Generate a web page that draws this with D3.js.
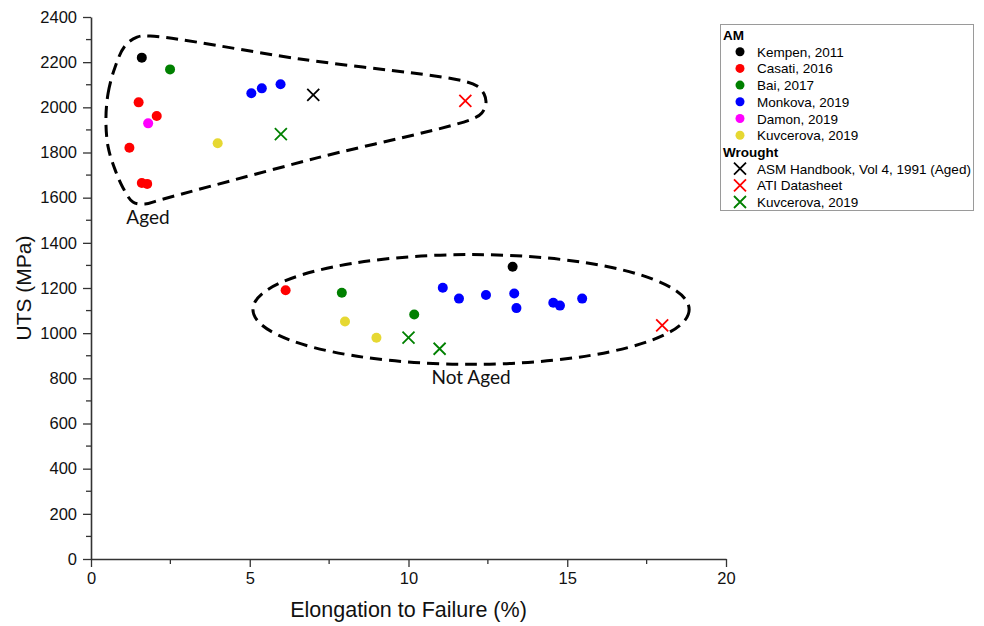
<!DOCTYPE html>
<html>
<head>
<meta charset="utf-8">
<script src="https://cdn.jsdelivr.net/npm/d3@7"></script>
<style>
  html, body { margin: 0; padding: 0; background: #fff; }
  svg { display: block; }
</style>
</head>
<body>
<svg id="chart" width="984" height="626"></svg>
<script>
// ---------- data ----------
const xTicks = [0, 5, 10, 15, 20];
const yTicks = [0, 200, 400, 600, 800, 1000, 1200, 1400, 1600, 1800, 2000, 2200, 2400];

const kempen2011   = [[1.60, 2220], [13.28, 1294]];
const casati2016   = [[1.50, 2022], [2.07, 1962], [1.21, 1821], [1.60, 1665], [1.77, 1661], [6.13, 1190]];
const bai2017      = [[2.49, 2168], [7.90, 1179], [10.18, 1083]];
const monkova2019  = [[5.05, 2062], [5.38, 2084], [5.97, 2102], [11.08, 1201], [11.59, 1153], [12.44, 1169],
                      [13.33, 1176], [13.40, 1111], [14.56, 1135], [14.77, 1122], [15.47, 1153]];
const damon2019    = [[1.80, 1929]];
const kuvcerovaAM  = [[3.99, 1841], [8.00, 1052], [8.99, 980]];
const asmHandbook  = [[7.00, 2055]];
const atiDatasheet = [[11.79, 2029], [17.99, 1035]];
const kuvcerovaWr  = [[5.98, 1881], [10.00, 980], [10.98, 931]];

// annotation outlines (data units)
const agedOutline = [[0.47,1944],[0.54,2063],[0.76,2179],[1.07,2272],[1.45,2311],[1.86,2316],[6.58,2214],
  [11.72,2117],[12.16,2094],[12.38,2059],[12.44,2019],[12.31,1975],[12.0,1948],[7.12,1776],[2.17,1590],
  [1.70,1572],[1.32,1581],[1.01,1643],[0.76,1723],[0.54,1824]];
const notAgedCenter = [11.97, 1105];
const notAgedRadii = [6.87, 243];

const series = [
  {group: "AM", name: "Kempen, 2011", data: kempen2011, color: "#000000", shape: "circle"},
  {group: "AM", name: "Casati, 2016", data: casati2016, color: "#ff0000", shape: "circle"},
  {group: "AM", name: "Bai, 2017", data: bai2017, color: "#008000", shape: "circle"},
  {group: "AM", name: "Monkova, 2019", data: monkova2019, color: "#0000ff", shape: "circle"},
  {group: "AM", name: "Damon, 2019", data: damon2019, color: "#ff00ff", shape: "circle"},
  {group: "AM", name: "Kuvcerova, 2019", data: kuvcerovaAM, color: "#e6d832", shape: "circle"},
  {group: "Wrought", name: "ASM Handbook, Vol 4, 1991 (Aged)", data: asmHandbook, color: "#000000", shape: "x"},
  {group: "Wrought", name: "ATI Datasheet", data: atiDatasheet, color: "#ff0000", shape: "x"},
  {group: "Wrought", name: "Kuvcerova, 2019", data: kuvcerovaWr, color: "#008000", shape: "x"}
];

// ---------- chart ----------
const svg = d3.select("#chart");
const x = d3.scaleLinear().domain([0, 20]).range([91, 726]);
const y = d3.scaleLinear().domain([0, 2400]).range([559, 17]);
const axisColor = "#333";
const tickFont = "Liberation Sans, Arial, sans-serif";

// minor ticks
const xMinor = d3.range(2.5, 20, 5);
const yMinor = d3.range(100, 2400, 200);
svg.append("g").selectAll("line").data(xMinor).join("line")
  .attr("x1", d => x(d)).attr("x2", d => x(d)).attr("y1", y(0)).attr("y2", y(0) + 5)
  .attr("stroke", axisColor).attr("stroke-width", 1.3);
svg.append("g").selectAll("line").data(yMinor).join("line")
  .attr("y1", d => y(d)).attr("y2", d => y(d)).attr("x1", x(0)).attr("x2", x(0) - 5)
  .attr("stroke", axisColor).attr("stroke-width", 1.3);

const xAxis = svg.append("g").attr("transform", `translate(0,${y(0)})`)
  .call(d3.axisBottom(x).tickValues(xTicks).tickFormat(d3.format("d")).tickSize(8).tickPadding(5).tickSizeOuter(0));
const yAxis = svg.append("g").attr("transform", `translate(${x(0)},0)`)
  .call(d3.axisLeft(y).tickValues(yTicks).tickFormat(d3.format("d")).tickSize(8).tickPadding(6).tickSizeOuter(0));
[xAxis, yAxis].forEach(g => {
  g.select(".domain").attr("stroke", axisColor).attr("stroke-width", 1.6);
  g.selectAll(".tick line").attr("stroke", axisColor).attr("stroke-width", 1.3);
  g.selectAll(".tick text").attr("font-family", tickFont).attr("font-size", 16.5).attr("fill", "#111");
});

// axis titles
svg.append("text").attr("x", (x(0) + x(20)) / 2).attr("y", 617)
  .attr("text-anchor", "middle").attr("font-family", tickFont).attr("font-size", 21.5).attr("fill", "#111")
  .text("Elongation to Failure (%)");
svg.append("text").attr("transform", `translate(31,${(y(0) + y(2400)) / 2}) rotate(-90)`)
  .attr("text-anchor", "middle").attr("font-family", tickFont).attr("font-size", 21).attr("fill", "#111")
  .text("UTS (MPa)");

// annotation outlines
const outlineLine = d3.line().x(d => x(d[0])).y(d => y(d[1])).curve(d3.curveCatmullRomClosed.alpha(0.5));
svg.append("path").attr("d", outlineLine(agedOutline))
  .attr("fill", "none").attr("stroke", "#000").attr("stroke-width", 3).attr("stroke-dasharray", "12,7");
svg.append("ellipse")
  .attr("cx", x(notAgedCenter[0])).attr("cy", y(notAgedCenter[1]))
  .attr("rx", x(notAgedRadii[0]) - x(0)).attr("ry", y(0) - y(notAgedRadii[1]))
  .attr("fill", "none").attr("stroke", "#000").attr("stroke-width", 3).attr("stroke-dasharray", "12,7");

const annFont = "Lato, 'Open Sans', sans-serif";
svg.append("text").attr("x", 148).attr("y", 224).attr("text-anchor", "middle")
  .attr("font-family", annFont).attr("font-size", 19).attr("fill", "#111").text("Aged");
svg.append("text").attr("x", 471).attr("y", 384).attr("text-anchor", "middle")
  .attr("font-family", annFont).attr("font-size", 19).attr("fill", "#111").text("Not Aged");

// markers
function drawMarker(g, shape, color, cx, cy, r) {
  if (shape === "circle") {
    g.append("circle").attr("cx", cx).attr("cy", cy).attr("r", r).attr("fill", color);
  } else {
    const s = r + 1;
    g.append("path").attr("d", `M${cx - s},${cy - s}L${cx + s},${cy + s}M${cx - s},${cy + s}L${cx + s},${cy - s}`)
      .attr("stroke", color).attr("stroke-width", 1.8).attr("fill", "none");
  }
}
const pts = svg.append("g");
series.forEach(s => {
  s.data.forEach(d => drawMarker(pts, s.shape, s.color, x(d[0]), y(d[1]), 5));
});

// legend
const lg = svg.append("g");
lg.append("rect").attr("x", 720.5).attr("y", 24.5).attr("width", 253).attr("height", 186)
  .attr("fill", "#fff").attr("stroke", "#9a9a9a").attr("stroke-width", 1);
const rowH = 16.7;
let row = 0;
const legFont = "Liberation Sans, Arial, sans-serif";
["AM", "Wrought"].forEach(grp => {
  lg.append("text").attr("x", 723).attr("y", 35 + row * rowH + 5)
    .attr("font-family", legFont).attr("font-weight", "bold").attr("font-size", 13.5).attr("fill", "#000").text(grp);
  row++;
  series.filter(s => s.group === grp).forEach(s => {
    const cy = 35 + row * rowH;
    drawMarker(lg, s.shape, s.color, 740, cy, s.shape === "circle" ? 4.5 : 5);
    lg.append("text").attr("x", 757).attr("y", cy + 5)
      .attr("font-family", legFont).attr("font-size", 13.5).attr("fill", "#000").text(s.name);
    row++;
  });
});
</script>
</body>
</html>
